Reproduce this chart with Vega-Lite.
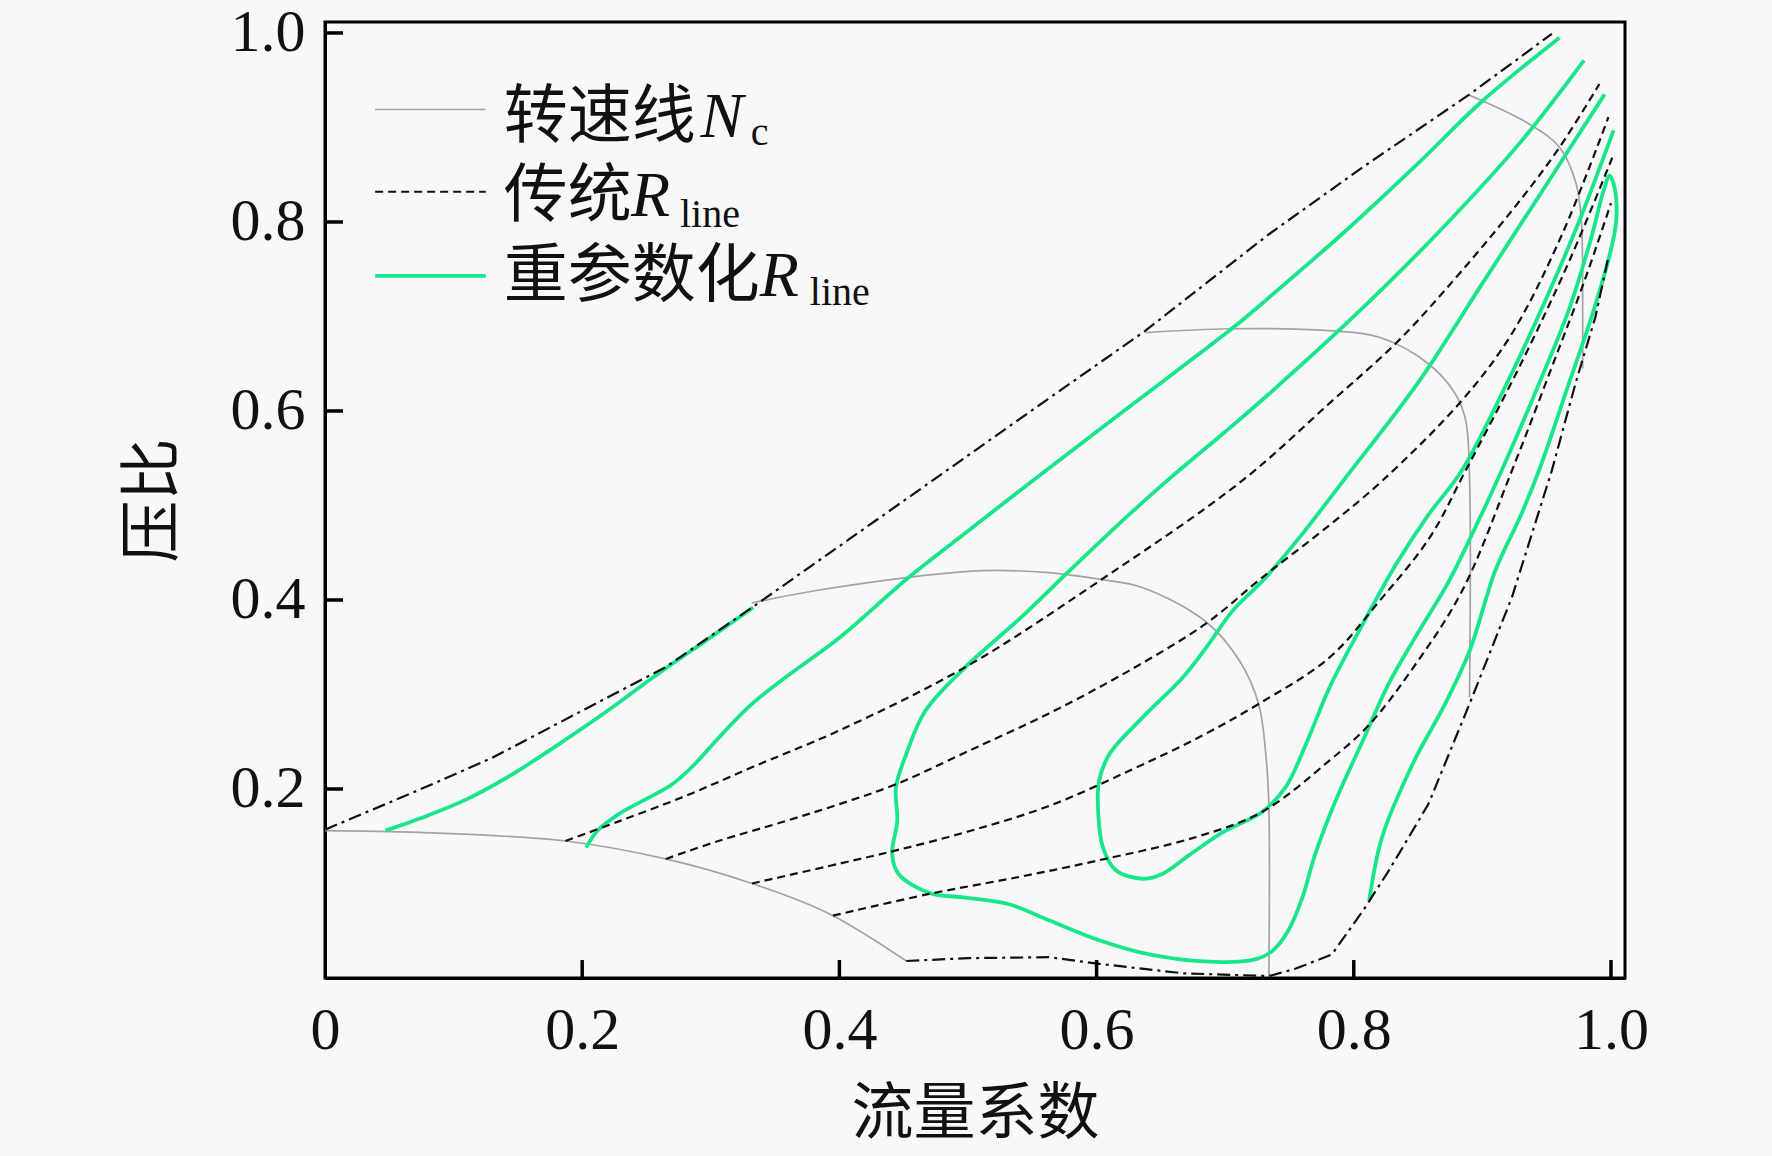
{
  "$schema": "https://vega.github.io/schema/vega-lite/v6.json",
  "width": 1300,
  "height": 956,
  "autosize": "none",
  "padding": {"left": 325, "top": 22, "right": 147, "bottom": 178},
  "background": "#f8f8f8",
  "datasets": {
    "curves": [
      {"k":"B","s":"surge","x":0,"y":0.157},{"k":"B","s":"surge","x":0.068,"y":0.196},{"k":"B","s":"surge","x":0.130,"y":0.233},{"k":"B","s":"surge","x":0.203,"y":0.285},{"k":"B","s":"surge","x":0.265,"y":0.329},{"k":"B","s":"surge","x":0.332,"y":0.392},{"k":"B","s":"surge","x":0.400,"y":0.457},{"k":"B","s":"surge","x":0.472,"y":0.526},{"k":"B","s":"surge","x":0.550,"y":0.601},{"k":"B","s":"surge","x":0.638,"y":0.685},{"k":"B","s":"surge","x":0.734,"y":0.787},{"k":"B","s":"surge","x":0.807,"y":0.858},{"k":"B","s":"surge","x":0.890,"y":0.935},{"k":"B","s":"surge","x":0.954,"y":0.999},
      {"k":"B","s":"choke","x":0.452,"y":0.018},{"k":"B","s":"choke","x":0.500,"y":0.021},{"k":"B","s":"choke","x":0.563,"y":0.022},{"k":"B","s":"choke","x":0.602,"y":0.015},{"k":"B","s":"choke","x":0.667,"y":0.005},{"k":"B","s":"choke","x":0.734,"y":0.002},{"k":"B","s":"choke","x":0.755,"y":0.010},{"k":"B","s":"choke","x":0.783,"y":0.025},{"k":"B","s":"choke","x":0.807,"y":0.071},{"k":"B","s":"choke","x":0.827,"y":0.113},{"k":"B","s":"choke","x":0.858,"y":0.184},{"k":"B","s":"choke","x":0.890,"y":0.290},{"k":"B","s":"choke","x":0.923,"y":0.403},{"k":"B","s":"choke","x":0.954,"y":0.537},{"k":"B","s":"choke","x":0.973,"y":0.632},{"k":"B","s":"choke","x":0.988,"y":0.700},{"k":"B","s":"choke","x":0.998,"y":0.763},
      {"k":"N","s":"n1","x":0,"y":0.156},{"k":"N","s":"n1","x":0.073,"y":0.154},{"k":"N","s":"n1","x":0.187,"y":0.145},{"k":"N","s":"n1","x":0.265,"y":0.126},{"k":"N","s":"n1","x":0.332,"y":0.100},{"k":"N","s":"n1","x":0.392,"y":0.068},{"k":"N","s":"n1","x":0.452,"y":0.018},
      {"k":"N","s":"n2","x":0.332,"y":0.397},{"k":"N","s":"n2","x":0.382,"y":0.410},{"k":"N","s":"n2","x":0.454,"y":0.424},{"k":"N","s":"n2","x":0.511,"y":0.431},{"k":"N","s":"n2","x":0.563,"y":0.429},{"k":"N","s":"n2","x":0.602,"y":0.422},{"k":"N","s":"n2","x":0.636,"y":0.413},{"k":"N","s":"n2","x":0.685,"y":0.377},{"k":"N","s":"n2","x":0.711,"y":0.336},{"k":"N","s":"n2","x":0.726,"y":0.290},{"k":"N","s":"n2","x":0.732,"y":0.230},{"k":"N","s":"n2","x":0.734,"y":0.180},{"k":"N","s":"n2","x":0.734,"y":0.002},
      {"k":"N","s":"n3","x":0.638,"y":0.683},{"k":"N","s":"n3","x":0.703,"y":0.687},{"k":"N","s":"n3","x":0.781,"y":0.685},{"k":"N","s":"n3","x":0.820,"y":0.678},{"k":"N","s":"n3","x":0.858,"y":0.650},{"k":"N","s":"n3","x":0.879,"y":0.618},{"k":"N","s":"n3","x":0.887,"y":0.590},{"k":"N","s":"n3","x":0.890,"y":0.530},{"k":"N","s":"n3","x":0.890,"y":0.297},
      {"k":"N","s":"n4","x":0.890,"y":0.934},{"k":"N","s":"n4","x":0.936,"y":0.904},{"k":"N","s":"n4","x":0.960,"y":0.879},{"k":"N","s":"n4","x":0.973,"y":0.840},{"k":"N","s":"n4","x":0.977,"y":0.800},{"k":"N","s":"n4","x":0.978,"y":0.700},{"k":"N","s":"n4","x":0.978,"y":0.645},
      {"k":"N","s":"leg1","x":0.039,"y":0.919},{"k":"N","s":"leg1","x":0.125,"y":0.919},
      {"k":"D","s":"d1","x":0.187,"y":0.145},{"k":"D","s":"d1","x":0.229,"y":0.166},{"k":"D","s":"d1","x":0.281,"y":0.193},{"k":"D","s":"d1","x":0.332,"y":0.223},{"k":"D","s":"d1","x":0.400,"y":0.262},{"k":"D","s":"d1","x":0.498,"y":0.329},{"k":"D","s":"d1","x":0.602,"y":0.420},{"k":"D","s":"d1","x":0.713,"y":0.526},{"k":"D","s":"d1","x":0.781,"y":0.608},{"k":"D","s":"d1","x":0.833,"y":0.672},{"k":"D","s":"d1","x":0.871,"y":0.728},{"k":"D","s":"d1","x":0.923,"y":0.812},{"k":"D","s":"d1","x":0.959,"y":0.877},{"k":"D","s":"d1","x":0.991,"y":0.946},
      {"k":"D","s":"d2","x":0.265,"y":0.126},{"k":"D","s":"d2","x":0.306,"y":0.145},{"k":"D","s":"d2","x":0.358,"y":0.166},{"k":"D","s":"d2","x":0.400,"y":0.184},{"k":"D","s":"d2","x":0.444,"y":0.205},{"k":"D","s":"d2","x":0.500,"y":0.240},{"k":"D","s":"d2","x":0.563,"y":0.280},{"k":"D","s":"d2","x":0.625,"y":0.325},{"k":"D","s":"d2","x":0.685,"y":0.375},{"k":"D","s":"d2","x":0.729,"y":0.424},{"k":"D","s":"d2","x":0.780,"y":0.478},{"k":"D","s":"d2","x":0.822,"y":0.526},{"k":"D","s":"d2","x":0.884,"y":0.611},{"k":"D","s":"d2","x":0.923,"y":0.682},{"k":"D","s":"d2","x":0.962,"y":0.787},{"k":"D","s":"d2","x":0.998,"y":0.911},
      {"k":"D","s":"d3","x":0.332,"y":0.100},{"k":"D","s":"d3","x":0.400,"y":0.121},{"k":"D","s":"d3","x":0.444,"y":0.135},{"k":"D","s":"d3","x":0.500,"y":0.155},{"k":"D","s":"d3","x":0.563,"y":0.182},{"k":"D","s":"d3","x":0.625,"y":0.219},{"k":"D","s":"d3","x":0.680,"y":0.255},{"k":"D","s":"d3","x":0.726,"y":0.290},{"k":"D","s":"d3","x":0.781,"y":0.339},{"k":"D","s":"d3","x":0.820,"y":0.399},{"k":"D","s":"d3","x":0.859,"y":0.466},{"k":"D","s":"d3","x":0.887,"y":0.537},{"k":"D","s":"d3","x":0.930,"y":0.650},{"k":"D","s":"d3","x":0.968,"y":0.760},{"k":"D","s":"d3","x":1.001,"y":0.868},
      {"k":"D","s":"d4","x":0.395,"y":0.066},{"k":"D","s":"d4","x":0.470,"y":0.089},{"k":"D","s":"d4","x":0.540,"y":0.107},{"k":"D","s":"d4","x":0.600,"y":0.124},{"k":"D","s":"d4","x":0.677,"y":0.149},{"k":"D","s":"d4","x":0.729,"y":0.176},{"k":"D","s":"d4","x":0.781,"y":0.230},{"k":"D","s":"d4","x":0.812,"y":0.268},{"k":"D","s":"d4","x":0.846,"y":0.328},{"k":"D","s":"d4","x":0.884,"y":0.409},{"k":"D","s":"d4","x":0.923,"y":0.537},{"k":"D","s":"d4","x":0.955,"y":0.650},{"k":"D","s":"d4","x":0.980,"y":0.740},{"k":"D","s":"d4","x":1.000,"y":0.820},
      {"k":"D","s":"leg2","x":0.039,"y":0.832},{"k":"D","s":"leg2","x":0.125,"y":0.832},
      {"k":"G","s":"g1","x":0.047,"y":0.156},{"k":"G","s":"g1","x":0.080,"y":0.172},{"k":"G","s":"g1","x":0.110,"y":0.189},{"k":"G","s":"g1","x":0.145,"y":0.215},{"k":"G","s":"g1","x":0.177,"y":0.243},{"k":"G","s":"g1","x":0.220,"y":0.283},{"k":"G","s":"g1","x":0.255,"y":0.318},{"k":"G","s":"g1","x":0.295,"y":0.356},{"k":"G","s":"g1","x":0.333,"y":0.392},
      {"k":"G","s":"g2","x":0.203,"y":0.138},{"k":"G","s":"g2","x":0.212,"y":0.156},{"k":"G","s":"g2","x":0.229,"y":0.174},{"k":"G","s":"g2","x":0.270,"y":0.205},{"k":"G","s":"g2","x":0.288,"y":0.227},{"k":"G","s":"g2","x":0.306,"y":0.254},{"k":"G","s":"g2","x":0.332,"y":0.290},{"k":"G","s":"g2","x":0.358,"y":0.318},{"k":"G","s":"g2","x":0.400,"y":0.360},{"k":"G","s":"g2","x":0.454,"y":0.424},{"k":"G","s":"g2","x":0.500,"y":0.473},{"k":"G","s":"g2","x":0.550,"y":0.526},{"k":"G","s":"g2","x":0.625,"y":0.604},{"k":"G","s":"g2","x":0.706,"y":0.688},{"k":"G","s":"g2","x":0.734,"y":0.720},{"k":"G","s":"g2","x":0.794,"y":0.791},{"k":"G","s":"g2","x":0.850,"y":0.862},{"k":"G","s":"g2","x":0.900,"y":0.928},{"k":"G","s":"g2","x":0.960,"y":0.995},
      {"k":"G","s":"g3","x":0.979,"y":0.971},{"k":"G","s":"g3","x":0.930,"y":0.885},{"k":"G","s":"g3","x":0.870,"y":0.795},{"k":"G","s":"g3","x":0.800,"y":0.700},{"k":"G","s":"g3","x":0.734,"y":0.618},{"k":"G","s":"g3","x":0.700,"y":0.578},{"k":"G","s":"g3","x":0.658,"y":0.530},{"k":"G","s":"g3","x":0.625,"y":0.490},{"k":"G","s":"g3","x":0.579,"y":0.431},{"k":"G","s":"g3","x":0.540,"y":0.380},{"k":"G","s":"g3","x":0.498,"y":0.329},{"k":"G","s":"g3","x":0.467,"y":0.283},{"k":"G","s":"g3","x":0.452,"y":0.237},{"k":"G","s":"g3","x":0.444,"y":0.202},{"k":"G","s":"g3","x":0.445,"y":0.166},{"k":"G","s":"g3","x":0.441,"y":0.131},{"k":"G","s":"g3","x":0.446,"y":0.110},{"k":"G","s":"g3","x":0.470,"y":0.090},{"k":"G","s":"g3","x":0.498,"y":0.085},{"k":"G","s":"g3","x":0.532,"y":0.078},{"k":"G","s":"g3","x":0.563,"y":0.061},{"k":"G","s":"g3","x":0.602,"y":0.040},{"k":"G","s":"g3","x":0.641,"y":0.025},{"k":"G","s":"g3","x":0.692,"y":0.017},{"k":"G","s":"g3","x":0.724,"y":0.020},{"k":"G","s":"g3","x":0.737,"y":0.029},{"k":"G","s":"g3","x":0.749,"y":0.050},{"k":"G","s":"g3","x":0.760,"y":0.085},{"k":"G","s":"g3","x":0.770,"y":0.131},{"k":"G","s":"g3","x":0.786,"y":0.188},{"k":"G","s":"g3","x":0.807,"y":0.251},{"k":"G","s":"g3","x":0.827,"y":0.311},{"k":"G","s":"g3","x":0.848,"y":0.361},{"k":"G","s":"g3","x":0.874,"y":0.420},{"k":"G","s":"g3","x":0.897,"y":0.484},{"k":"G","s":"g3","x":0.915,"y":0.537},{"k":"G","s":"g3","x":0.945,"y":0.632},{"k":"G","s":"g3","x":0.968,"y":0.710},{"k":"G","s":"g3","x":0.985,"y":0.785},{"k":"G","s":"g3","x":0.994,"y":0.832},{"k":"G","s":"g3","x":0.999,"y":0.849},{"k":"G","s":"g3","x":1.003,"y":0.835},{"k":"G","s":"g3","x":1.004,"y":0.800},{"k":"G","s":"g3","x":0.998,"y":0.760},{"k":"G","s":"g3","x":0.985,"y":0.700},{"k":"G","s":"g3","x":0.968,"y":0.632},{"k":"G","s":"g3","x":0.944,"y":0.537},{"k":"G","s":"g3","x":0.930,"y":0.490},{"k":"G","s":"g3","x":0.910,"y":0.431},{"k":"G","s":"g3","x":0.890,"y":0.346},{"k":"G","s":"g3","x":0.871,"y":0.290},{"k":"G","s":"g3","x":0.846,"y":0.227},{"k":"G","s":"g3","x":0.822,"y":0.149},{"k":"G","s":"g3","x":0.812,"y":0.082},
      {"k":"G","s":"g4","x":0.995,"y":0.935},{"k":"G","s":"g4","x":0.950,"y":0.840},{"k":"G","s":"g4","x":0.900,"y":0.735},{"k":"G","s":"g4","x":0.850,"y":0.630},{"k":"G","s":"g4","x":0.794,"y":0.530},{"k":"G","s":"g4","x":0.760,"y":0.470},{"k":"G","s":"g4","x":0.729,"y":0.420},{"k":"G","s":"g4","x":0.706,"y":0.389},{"k":"G","s":"g4","x":0.687,"y":0.353},{"k":"G","s":"g4","x":0.667,"y":0.318},{"k":"G","s":"g4","x":0.636,"y":0.276},{"k":"G","s":"g4","x":0.610,"y":0.237},{"k":"G","s":"g4","x":0.602,"y":0.209},{"k":"G","s":"g4","x":0.601,"y":0.184},{"k":"G","s":"g4","x":0.605,"y":0.138},{"k":"G","s":"g4","x":0.615,"y":0.114},{"k":"G","s":"g4","x":0.636,"y":0.105},{"k":"G","s":"g4","x":0.651,"y":0.110},{"k":"G","s":"g4","x":0.672,"y":0.130},{"k":"G","s":"g4","x":0.698,"y":0.154},{"k":"G","s":"g4","x":0.729,"y":0.176},{"k":"G","s":"g4","x":0.747,"y":0.202},{"k":"G","s":"g4","x":0.763,"y":0.248},{"k":"G","s":"g4","x":0.781,"y":0.307},{"k":"G","s":"g4","x":0.804,"y":0.367},{"k":"G","s":"g4","x":0.833,"y":0.438},{"k":"G","s":"g4","x":0.858,"y":0.490},{"k":"G","s":"g4","x":0.884,"y":0.537},{"k":"G","s":"g4","x":0.920,"y":0.632},{"k":"G","s":"g4","x":0.950,"y":0.720},{"k":"G","s":"g4","x":0.975,"y":0.800},{"k":"G","s":"g4","x":1.002,"y":0.897},
      {"k":"G","s":"leg3","x":0.039,"y":0.743},{"k":"G","s":"leg3","x":0.125,"y":0.743}
    ],
    "ticks": [
      {"x":0.2,"x2":0.2,"y":0,"y2":0.019},{"x":0.4,"x2":0.4,"y":0,"y2":0.019},{"x":0.6,"x2":0.6,"y":0,"y2":0.019},{"x":0.8,"x2":0.8,"y":0,"y2":0.019},{"x":1.0,"x2":1.0,"y":0,"y2":0.019},
      {"x":0,"x2":0.014,"y":0.2,"y2":0.2},{"x":0,"x2":0.014,"y":0.4,"y2":0.4},{"x":0,"x2":0.014,"y":0.6,"y2":0.6},{"x":0,"x2":0.014,"y":0.8,"y2":0.8},{"x":0,"x2":0.014,"y":1.0,"y2":1.0}
    ],
    "labels": [
      {"f":"cjk","t":"转速线","x":0.139,"y":0.890},
      {"f":"it","t":"N","x":0.292,"y":0.890},
      {"f":"sub","t":"c","x":0.331,"y":0.881},
      {"f":"cjk","t":"传统","x":0.139,"y":0.806},
      {"f":"it","t":"R","x":0.238,"y":0.806},
      {"f":"sub","t":"line","x":0.276,"y":0.795},
      {"f":"cjk","t":"重参数化","x":0.139,"y":0.722},
      {"f":"it","t":"R","x":0.338,"y":0.722},
      {"f":"sub","t":"line","x":0.377,"y":0.712}
    ]
  },
  "encoding": {
    "x": {
      "field": "x", "type": "quantitative",
      "scale": {"domain": [0, 1.0109], "nice": false, "zero": false},
      "axis": {
        "title": "流量系数",
        "values": [0, 0.2, 0.4, 0.6, 0.8, 1.0],
        "labelExpr": "datum.value == 0 ? '0' : format(datum.value, '.1f')",
        "labelPadding": 23,
        "titlePadding": 24
      }
    },
    "y": {
      "field": "y", "type": "quantitative",
      "scale": {"domain": [0, 1.0116], "nice": false, "zero": false},
      "axis": {
        "title": "压比",
        "values": [0.2, 0.4, 0.6, 0.8, 1.0],
        "format": ".1f",
        "labelPadding": 20,
        "titlePadding": 45
      }
    }
  },
  "layer": [
    {
      "data": {"name": "curves"},
      "transform": [{"filter": "datum.k == 'N'"}, {"window": [{"op": "row_number", "as": "i"}]}],
      "mark": {"type": "line", "color": "#a3a3a3", "strokeWidth": 1.7, "interpolate": "catmull-rom", "clip": true},
      "encoding": {"detail": {"field": "s"}, "order": {"field": "i", "type": "quantitative"}}
    },
    {
      "data": {"name": "curves"},
      "transform": [{"filter": "datum.k == 'G'"}, {"window": [{"op": "row_number", "as": "i"}]}],
      "mark": {"type": "line", "color": "#17e68a", "strokeWidth": 3.8, "interpolate": "catmull-rom", "clip": true},
      "encoding": {"detail": {"field": "s"}, "order": {"field": "i", "type": "quantitative"}}
    },
    {
      "data": {"name": "curves"},
      "transform": [{"filter": "datum.k == 'D'"}, {"window": [{"op": "row_number", "as": "i"}]}],
      "mark": {"type": "line", "color": "#111111", "strokeWidth": 2.2, "strokeDash": [8, 5], "interpolate": "catmull-rom", "clip": true},
      "encoding": {"detail": {"field": "s"}, "order": {"field": "i", "type": "quantitative"}}
    },
    {
      "data": {"name": "curves"},
      "transform": [{"filter": "datum.k == 'B'"}, {"window": [{"op": "row_number", "as": "i"}]}],
      "mark": {"type": "line", "color": "#111111", "strokeWidth": 2.2, "strokeDash": [13, 5, 3, 5], "clip": true},
      "encoding": {"detail": {"field": "s"}, "order": {"field": "i", "type": "quantitative"}}
    },
    {
      "data": {"name": "ticks"},
      "mark": {"type": "rule", "color": "#000000", "strokeWidth": 3.5},
      "encoding": {
        "x2": {"field": "x2"},
        "y2": {"field": "y2"}
      }
    },
    {
      "data": {"name": "labels"},
      "transform": [{"filter": "datum.f == 'cjk'"}],
      "mark": {"type": "text", "align": "left", "baseline": "alphabetic", "font": "Noto Sans CJK SC", "fontSize": 64, "color": "#111111"},
      "encoding": {"text": {"field": "t"}}
    },
    {
      "data": {"name": "labels"},
      "transform": [{"filter": "datum.f == 'it'"}],
      "mark": {"type": "text", "align": "left", "baseline": "alphabetic", "font": "Liberation Serif", "fontStyle": "italic", "fontSize": 64, "color": "#111111"},
      "encoding": {"text": {"field": "t"}}
    },
    {
      "data": {"name": "labels"},
      "transform": [{"filter": "datum.f == 'sub'"}],
      "mark": {"type": "text", "align": "left", "baseline": "alphabetic", "font": "Liberation Serif", "fontSize": 40, "color": "#111111"},
      "encoding": {"text": {"field": "t"}}
    }
  ],
  "config": {
    "view": {"stroke": "#000000", "strokeWidth": 3},
    "axis": {
      "grid": false,
      "ticks": false,
      "labelFlush": false,
      "labelOverlap": false,
      "domainColor": "#000000",
      "domainWidth": 3,
      "labelFont": "Liberation Serif",
      "labelFontSize": 60,
      "labelColor": "#111111",
      "titleFont": "Noto Sans CJK SC",
      "titleFontSize": 62,
      "titleFontWeight": "normal",
      "titleColor": "#111111"
    }
  }
}
